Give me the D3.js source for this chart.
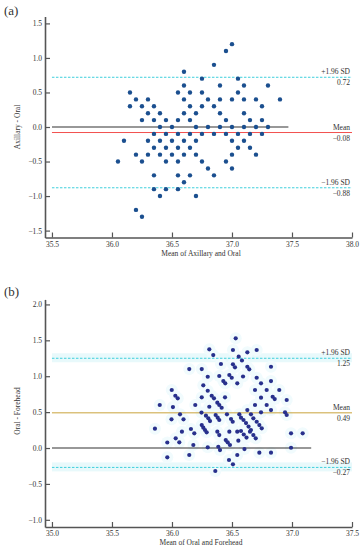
<!DOCTYPE html>
<html>
<head>
<meta charset="utf-8">
<script src="https://cdn.jsdelivr.net/npm/d3@7"></script>
<style>
  body { margin: 0; background: #fff; }
  svg text { font-family: "Liberation Serif", "DejaVu Serif", serif; fill: #333; }
</style>
</head>
<body>
<svg id="chart" width="362" height="550"></svg>
<script>
// Panel (a): mean of axillary and oral (x), axillary - oral (y)
var axMean = [36.6,36.75,36.15,36.55,36.65,36.75,36.6,36.2,36.3,36.6,36.15,36.25,36.35,36.65,36.75,
  36.3,36.4,36.6,36.7,36.25,36.35,36.45,36.55,36.65,36.4,36.5,36.7,36.35,36.45,36.55,36.65,36.75,
  36.1,36.3,36.4,36.5,36.6,36.7,36.35,36.45,36.55,36.65,36.2,36.3,36.4,36.5,36.6,36.7,
  36.05,36.25,36.45,36.55,36.75,36.35,36.55,36.65,36.6,36.35,36.45,36.55,36.4,36.7,36.2,36.25,
  37.0,36.95,36.85,37.05,36.9,37.1,37.3,37.05,36.8,36.9,37.0,37.1,37.2,37.4,36.85,37.25,36.9,37.1,
  36.95,37.15,37.25,36.8,36.9,37.0,37.1,37.2,37.3,36.85,36.95,37.05,37.15,37.25,37.0,37.1,
  37.05,37.15,37.0,37.2,36.95,36.8,37.0,36.85];
var axDiff = [0.8,0.7,0.5,0.5,0.5,0.5,0.6,0.4,0.4,0.4,0.3,0.3,0.3,0.3,0.3,
  0.2,0.2,0.2,0.2,0.1,0.1,0.1,0.1,0.1,0.0,0.0,0.0,-0.1,-0.1,-0.1,-0.1,-0.1,
  -0.2,-0.2,-0.2,-0.2,-0.2,-0.2,-0.3,-0.3,-0.3,-0.3,-0.4,-0.4,-0.4,-0.4,-0.4,-0.4,
  -0.5,-0.5,-0.5,-0.5,-0.5,-0.7,-0.7,-0.7,-0.8,-0.9,-0.9,-0.9,-1.0,-1.0,-1.2,-1.3,
  1.2,1.1,0.9,0.7,0.6,0.6,0.6,0.5,0.4,0.4,0.4,0.4,0.4,0.4,0.3,0.3,0.2,0.2,
  0.1,0.1,0.1,0.0,0.0,0.0,0.0,0.0,0.0,-0.1,-0.1,-0.1,-0.1,-0.1,-0.2,-0.2,
  -0.3,-0.3,-0.4,-0.4,-0.5,-0.6,-0.6,-0.7];

// Panel (b): mean of oral and forehead (x), oral - forehead (y)
var ofMean = [36.531,36.311,36.344,36.508,36.556,36.583,36.628,36.644,36.628,36.706,36.408,36.508,36.525,
  36.144,36.248,36.825,36.298,36.394,36.478,36.498,36.592,36.706,36.428,36.444,36.544,36.742,36.825,
  36.261,36.298,35.998,36.028,36.048,36.248,36.331,36.350,36.442,36.692,36.789,36.894,36.742,36.839,
  36.856,36.956,36.378,36.394,36.414,35.898,36.008,36.194,36.311,36.692,36.789,36.246,36.067,35.996,
  36.096,36.283,36.303,36.317,36.364,36.381,36.394,36.458,36.492,36.506,36.561,36.575,36.628,36.742,
  36.825,36.942,36.956,36.596,36.617,36.638,36.658,36.658,36.678,36.706,36.728,36.748,36.248,36.261,
  36.275,36.289,36.158,36.186,36.083,36.031,36.061,35.961,36.178,36.378,36.394,36.478,36.544,36.448,
  36.464,36.483,36.553,36.575,36.598,36.621,36.650,36.678,36.698,36.992,37.089,36.298,36.386,36.400,
  36.604,36.728,36.825,36.992,36.144,36.544,36.475,36.508,36.361,35.858,35.961];
var ofDiff = [1.528,1.375,1.295,1.365,1.272,1.219,1.132,1.096,1.333,1.365,1.170,1.166,1.124,
  1.100,1.100,1.132,0.993,1.003,1.017,0.979,0.996,0.979,0.933,0.901,0.901,0.901,0.933,
  0.873,0.798,0.808,0.728,0.692,0.706,0.728,0.692,0.706,0.808,0.808,0.808,0.701,0.714,
  0.682,0.669,0.631,0.599,0.561,0.599,0.571,0.599,0.575,0.599,0.599,0.494,0.469,0.400,
  0.400,0.450,0.414,0.376,0.460,0.422,0.390,0.469,0.404,0.366,0.469,0.422,0.529,0.497,
  0.529,0.497,0.460,0.390,0.348,0.299,0.251,0.469,0.414,0.366,0.320,0.274,0.320,0.283,
  0.251,0.219,0.265,0.205,0.227,0.135,0.079,0.077,0.042,0.227,0.181,0.227,0.227,0.111,
  0.079,0.042,0.102,0.237,0.188,0.146,0.227,0.181,0.135,0.205,0.205,0.010,0.018,-0.028,
  -0.014,-0.065,-0.065,0.004,-0.097,-0.097,-0.167,-0.227,-0.320,0.269,-0.130];

// Limits of agreement: [upper, mean, lower]
var limitsA = [0.72, -0.08, -0.88];
var limitsB = [1.25, 0.49, -0.27];
var limitNames = ["+1.96 SD", "Mean", "\u22121.96 SD"];

var ticksA_x = [35.5, 36.0, 36.5, 37.0, 37.5, 38.0];
var ticksA_y = [-1.5, -1.0, -0.5, 0.0, 0.5, 1.0, 1.5];
var ticksB_x = [35.0, 35.5, 36.0, 36.5, 37.0, 37.5];
var ticksB_y = [-1.0, -0.5, 0.0, 0.5, 1.0, 1.5, 2.0];

var fmt = d3.format(".2f");
var svg = d3.select("#chart");

function drawPanel(opt) {
    var g = svg.append("g");
    var x = d3.scaleLinear().domain(opt.xDomain).range([45, 352]);
    var y = d3.scaleLinear().domain(opt.yDomain).range(opt.yRange);
    var x0 = opt.lineStart;

    // light bands around the SD lines (panel b)
    if (opt.band) {
        [0, 2].forEach(function (i) {
            g.append("rect")
                .attr("x", x(x0)).attr("width", x(opt.xDomain[1]) - x(x0))
                .attr("y", y(opt.limits[i]) - 5).attr("height", 9)
                .attr("fill", "#e8f9fb");
        });
    }
    // faint haze behind the points (panel b)
    if (opt.halo) {
        g.append("g").selectAll("circle")
            .data(opt.xs)
            .join("circle")
            .attr("cx", function (d) { return x(d); })
            .attr("cy", function (d, i) { return y(opt.ys[i]); })
            .attr("r", 6)
            .attr("fill", "#f1fbfd");
    }

    // zero line
    g.append("line")
        .attr("x1", x(x0)).attr("x2", x(opt.zeroEnd))
        .attr("y1", y(0)).attr("y2", y(0))
        .attr("stroke", "#333").attr("stroke-width", 1.2);

    // limits of agreement
    opt.limits.forEach(function (v, i) {
        var l = g.append("line")
            .attr("x1", x(x0)).attr("x2", x(opt.xDomain[1]))
            .attr("y1", y(v)).attr("y2", y(v))
            .attr("stroke-width", 1);
        if (i == 1) {
            l.attr("stroke", opt.meanColor);
        } else {
            l.attr("stroke", "#3fcfdc").attr("stroke-dasharray", "2.5,1.5");
        }
        g.append("text")
            .attr("x", 350).attr("y", y(v) - 3)
            .attr("text-anchor", "end")
            .style("font-size", "7.5px")
            .text(limitNames[i]);
        g.append("text")
            .attr("x", 350).attr("y", y(v) + 8)
            .attr("text-anchor", "end")
            .style("font-size", "7.5px")
            .text(fmt(v).replace("-", "\u2212"));
    });

    // points
    g.append("g").selectAll("circle")
        .data(opt.xs)
        .join("circle")
        .attr("cx", function (d) { return x(d); })
        .attr("cy", function (d, i) { return y(opt.ys[i]); })
        .attr("r", opt.r)
        .attr("fill", opt.color);

    // axes, ticks pointing inward
    var yAxis = g.append("g")
        .attr("transform", "translate(45,0)")
        .call(d3.axisLeft(y).tickValues(opt.yTicks).tickFormat(d3.format(".1f"))
            .tickSize(-5).tickSizeOuter(0).tickPadding(3));
    var xAxis = g.append("g")
        .attr("transform", "translate(0," + opt.yRange[0] + ")")
        .call(d3.axisBottom(x).tickValues(opt.xTicks).tickFormat(d3.format(".1f"))
            .tickSize(-5).tickSizeOuter(0).tickPadding(4));
    [yAxis, xAxis].forEach(function (a) {
        a.select(".domain").attr("stroke", "#555").attr("stroke-width", 1.6);
        a.selectAll(".tick line").attr("stroke", "#555").attr("stroke-width", 1.2);
        a.selectAll("text").style("font-size", "7.5px")
            .style("font-family", "Liberation Serif, serif").attr("fill", "#333");
    });

    // titles
    g.append("text")
        .attr("x", 201).attr("y", opt.yRange[0] + 18)
        .attr("text-anchor", "middle")
        .style("font-size", "7.5px")
        .text(opt.xTitle);
    g.append("text")
        .attr("transform", "translate(" + 20 + "," + opt.yTitleAt + ") rotate(-90)")
        .attr("text-anchor", "middle")
        .style("font-size", "7.5px")
        .text(opt.yTitle);
    g.append("text")
        .attr("x", 4).attr("y", opt.labelY)
        .style("font-size", "13px")
        .attr("fill", "#222")
        .text(opt.label);
}

drawPanel({
    xs: axMean, ys: axDiff, limits: limitsA,
    xDomain: [35.442, 38.0], yDomain: [-1.6, 1.6], yRange: [237.5, 16.5],
    xTicks: ticksA_x, yTicks: ticksA_y,
    lineStart: 35.5, zeroEnd: 37.47,
    meanColor: "#f2514f", color: "#1b4f8f", r: 2.2,
    band: false, halo: false,
    xTitle: "Mean of Axillary and Oral", yTitle: "Axillary - Oral", yTitleAt: 127,
    label: "(a)", labelY: 15
});

drawPanel({
    xs: ofMean, ys: ofDiff, limits: limitsB,
    xDomain: [34.942, 37.5], yDomain: [-1.1, 2.07], yRange: [527, 299.4],
    xTicks: ticksB_x, yTicks: ticksB_y,
    lineStart: 35.0, zeroEnd: 37.16,
    meanColor: "#c9a33c", color: "#28308c", r: 2.1,
    band: true, halo: true,
    xTitle: "Mean of Oral and Forehead", yTitle: "Oral - Forehead", yTitleAt: 411,
    label: "(b)", labelY: 296
});
</script>
</body>
</html>
